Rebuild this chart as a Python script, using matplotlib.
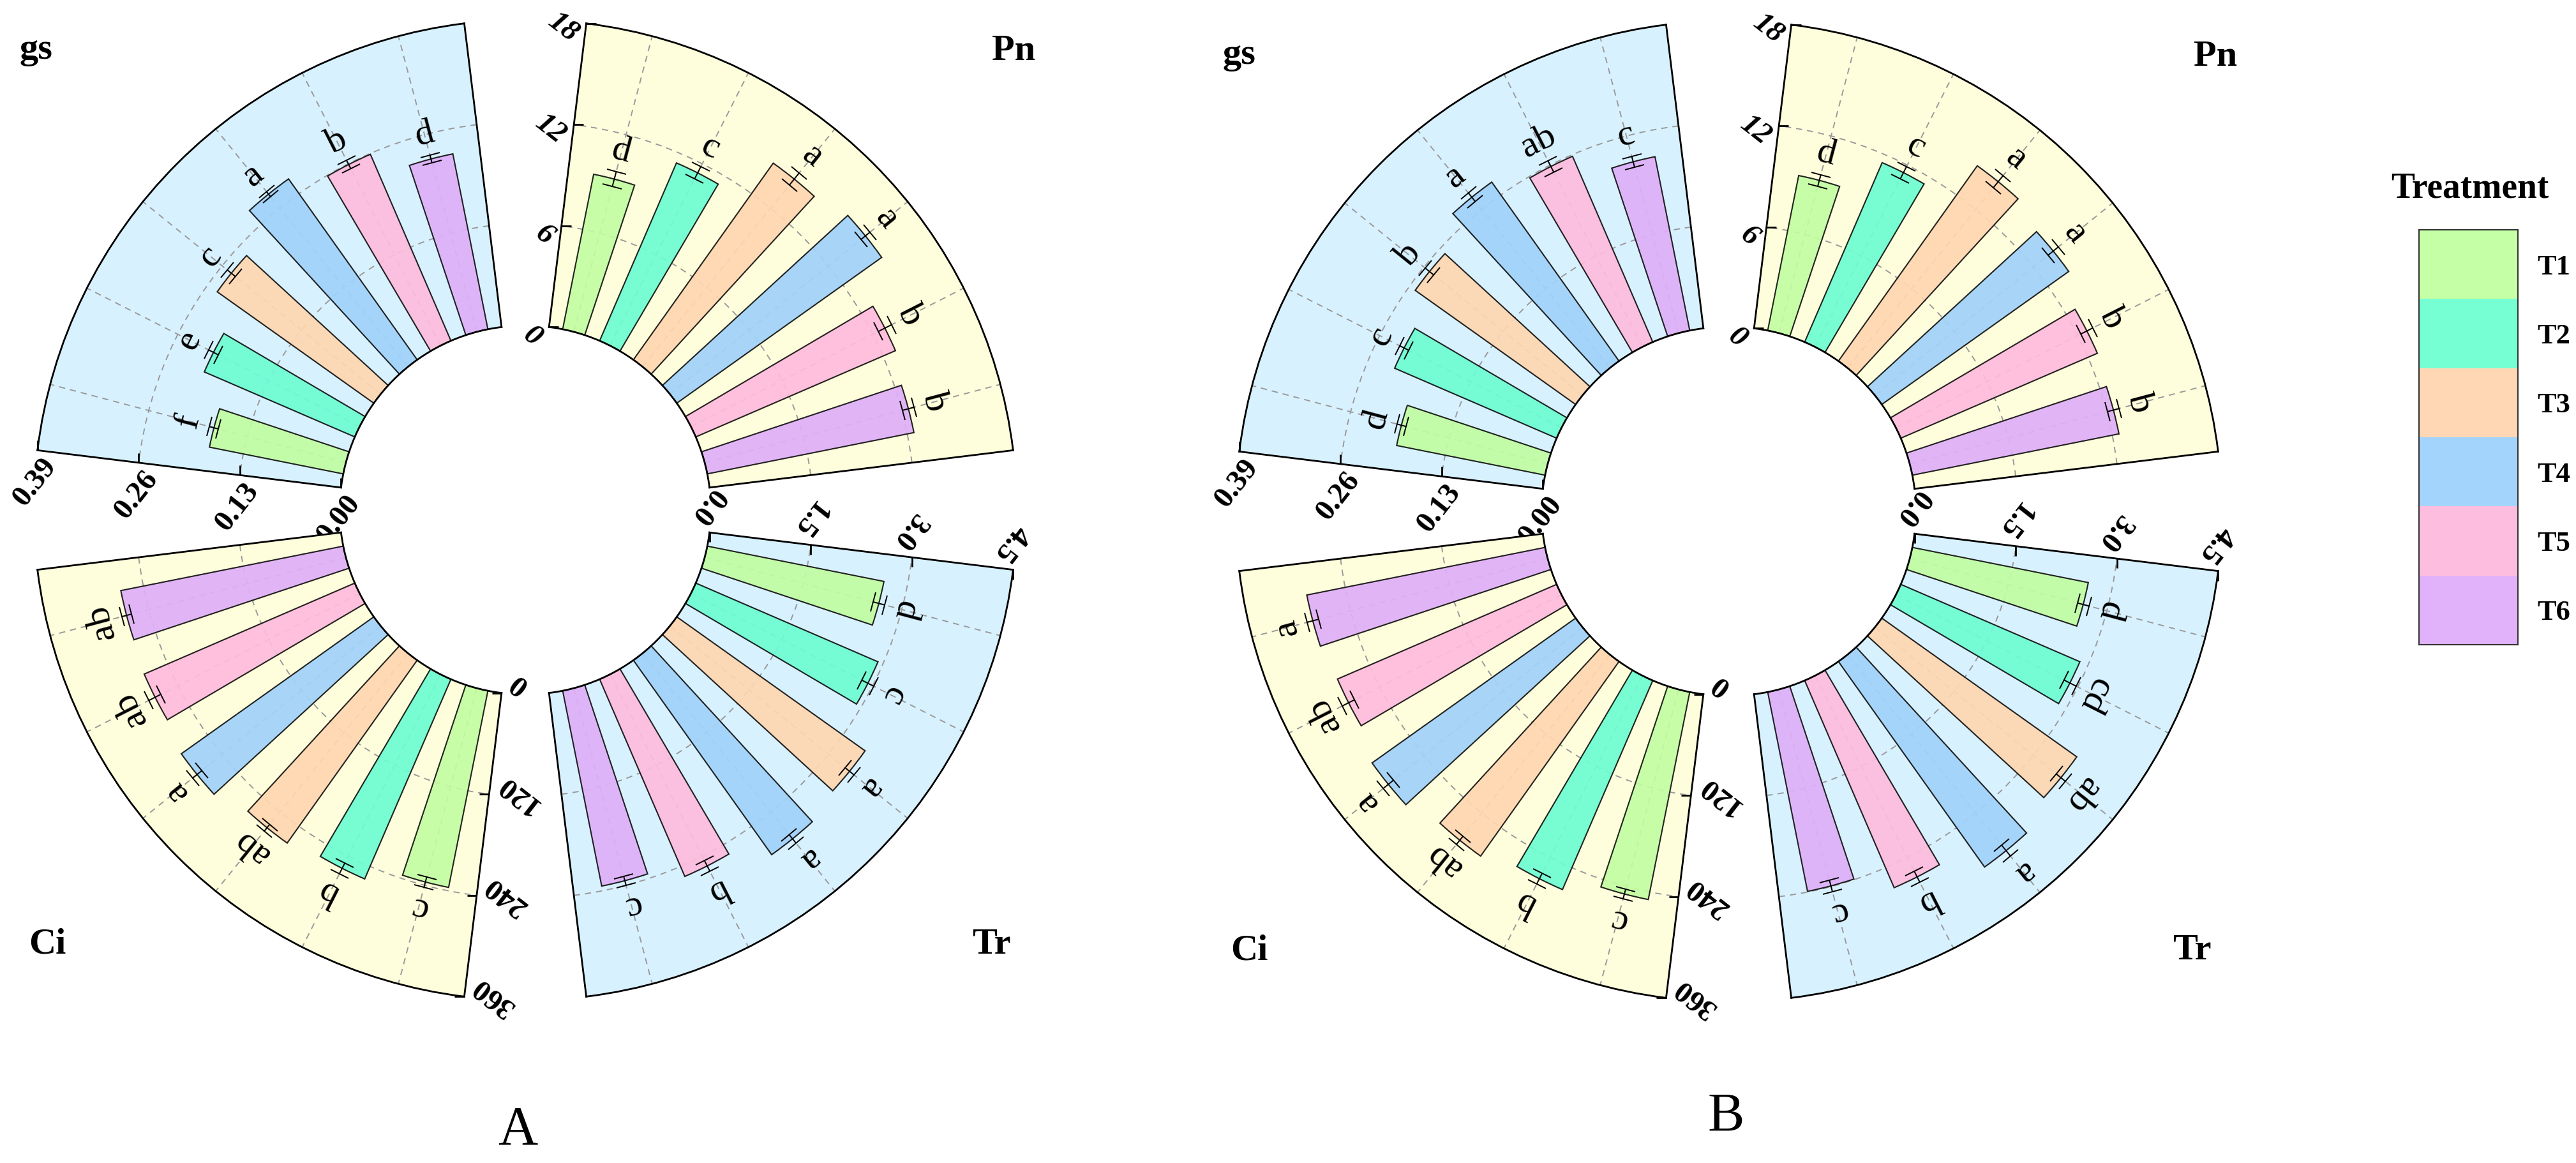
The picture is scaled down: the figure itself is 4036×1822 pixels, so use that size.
import numpy as np
import matplotlib
matplotlib.use("Agg")
import matplotlib.pyplot as plt
from matplotlib import transforms as mtransforms
from matplotlib.markers import TICKRIGHT, TICKUP, TICKLEFT, TICKDOWN

plt.rcParams['font.family'] = ['Liberation Serif', 'DejaVu Serif']

treatments = ['T1', 'T2', 'T3', 'T4', 'T5', 'T6']
bar_colors = ['#C2FDA2', '#6DFDD2', '#FFD6B0', '#A1D2FA', '#FFBBDD', '#DFAFF8']
legend_colors = ['#C5FFA6', '#76FFD3', '#FFD7B4', '#A3D4FC', '#FDBDDF', '#E1B1FA']

# panel A
pn_a = [9.3, 11.4, 14.2, 14.8, 12.8, 12.4]
pn_a_err = [0.45, 0.4, 0.45, 0.35, 0.45, 0.35]
pn_a_sig = ['d', 'c', 'a', 'a', 'b', 'b']
gs_a = [0.174, 0.209, 0.245, 0.283, 0.259, 0.228]
gs_a_err = [0.006, 0.007, 0.007, 0.004, 0.006, 0.005]
gs_a_sig = ['f', 'e', 'c', 'a', 'b', 'd']
ci_a = [236, 256, 264, 278, 270, 267]
ci_a_err = [6, 7, 5, 7, 8, 6]
ci_a_sig = ['c', 'b', 'ab', 'a', 'ab', 'ab']
tr_a = [2.65, 2.92, 3.40, 3.51, 3.16, 2.93]
tr_a_err = [0.09, 0.10, 0.08, 0.08, 0.09, 0.07]
tr_a_sig = ['d', 'c', 'a', 'a', 'b', 'c']

# panel B
pn_b = [9.3, 11.5, 14.1, 13.5, 12.6, 12.4]
pn_b_err = [0.35, 0.4, 0.45, 0.4, 0.4, 0.35]
pn_b_sig = ['d', 'c', 'a', 'a', 'b', 'b']
gs_b = [0.193, 0.225, 0.251, 0.280, 0.258, 0.226]
gs_b_err = [0.006, 0.006, 0.007, 0.007, 0.008, 0.007]
gs_b_sig = ['d', 'c', 'b', 'a', 'ab', 'c']
ci_b = [249, 268, 281, 294, 281, 286]
ci_b_err = [6, 7, 6, 8, 8, 7]
ci_b_sig = ['c', 'b', 'ab', 'a', 'ab', 'a']
tr_b = [2.64, 2.87, 3.52, 3.71, 3.32, 2.99]
tr_b_err = [0.09, 0.10, 0.09, 0.10, 0.09, 0.09]
tr_b_sig = ['d', 'cd', 'ab', 'a', 'b', 'c']

pn_ticks = ['0', '6', '12', '18']
gs_ticks = ['0.00', '0.13', '0.26', '0.39']
ci_ticks = ['0', '120', '240', '360']
tr_ticks = ['0.0', '1.5', '3.0', '4.5']

W, H, DPI = 4037, 1822, 100
fig = plt.figure(figsize=(W / DPI, H / DPI), dpi=DPI)

R = 768              # outer radius, px
RHO = 0.376          # inner / outer radius
SPAN = (7, 83)
STEP = 12.06
BAR_W = 7.1
YELLOW = '#FEFEDC'
BLUE = '#D8F1FE'
tick_markers = [TICKRIGHT, TICKUP, TICKLEFT, TICKDOWN]


def wedge_box(k):
    t = np.radians(np.linspace(SPAN[0], SPAN[1], 400) + 90 * k)
    xs = np.concatenate([np.cos(t), RHO * np.cos(t)])
    ys = np.concatenate([np.sin(t), RHO * np.sin(t)])
    x0, x1, y0, y1 = xs.min(), xs.max(), ys.min(), ys.max()
    w, h = x1 - x0, y1 - y0
    dh = max(w - h, 0) / 2
    dw = max(h - w, 0) / 2
    return x0 - dw, x1 + dw, y0 - dh, y1 + dh


def quadrant(cx, cy, k, vals, errs, sig, tick_lbls, bg, italic=False):
    x0, x1, y0, y1 = wedge_box(k)
    Y = H - cy
    ax = fig.add_axes([(cx + R * x0) / W, (Y + R * y0) / H,
                       R * (x1 - x0) / W, R * (y1 - y0) / H], projection='polar')
    ax.set_thetamin(SPAN[0] + 90 * k)
    ax.set_thetamax(SPAN[1] + 90 * k)
    vmax = float(tick_lbls[-1])
    ax.set_rlim(0, vmax)
    ax.set_rorigin(-vmax * RHO / (1 - RHO))
    ax.set_facecolor(bg)

    deg = 45 + 90 * k + STEP * np.array([2.5, 1.5, 0.5, -0.5, -1.5, -2.5])
    th = np.radians(deg)
    ticks = [float(t) for t in tick_lbls]

    ax.set_axisbelow(True)
    ax.set_xticks(th)
    ax.set_yticks(ticks[1:-1])
    ax.set_xticklabels([])
    ax.set_yticklabels([])
    ax.tick_params(length=0)
    ax.grid(True, ls=(0, (5, 4)), color='#9A9A9A', lw=1.4)
    for sp in ax.spines.values():
        sp.set_linewidth(2)
        sp.set_color('k')

    ax.bar(th, vals, width=np.radians(BAR_W), bottom=0, color=bar_colors,
           edgecolor='#111111', linewidth=1.5, alpha=0.92, zorder=2)
    ax.errorbar(th, vals, yerr=errs, fmt='none', ecolor='k', elinewidth=1.4,
                capsize=11, capthick=1.4, zorder=3)

    for t, d, v, e, s in zip(th, deg, vals, errs, sig):
        ax.text(t, v + e + 0.07 * vmax, s, rotation=d - 90, rotation_mode='anchor',
                ha='center', va='center', fontsize=42, zorder=4)

    # radial axis along the edge
    te = SPAN[1] + 90 * k
    ax.plot([np.radians(te)] * 4, ticks, ls='none', marker=tick_markers[k],
            ms=11, mew=2, color='k', clip_on=False, zorder=5)
    nrm = np.radians(te + 90)
    alo = np.radians(te)
    dx = 15 * np.cos(nrm) - 24 * np.cos(alo)
    dy = 15 * np.sin(nrm) - 24 * np.sin(alo)
    tr = mtransforms.offset_copy(ax.transData, fig=fig, x=dx, y=dy, units='dots')
    for r, lbl in zip(ticks, tick_lbls):
        ax.text(np.radians(te), r, lbl, transform=tr, rotation=te - 121,
                rotation_mode='anchor', ha='right', va='center', fontsize=34,
                fontweight='bold', fontstyle='italic' if italic else 'normal')
    ax.set_aspect('auto')
    return ax


def panel(lcx, rcx, cy, pn, pn_e, pn_s, gs, gs_e, gs_s, ci, ci_e, ci_s, tr, tr_e, tr_s):
    quadrant(rcx, cy, 0, pn, pn_e, pn_s, pn_ticks, YELLOW, italic=True)
    quadrant(lcx, cy, 1, gs, gs_e, gs_s, gs_ticks, BLUE)
    quadrant(lcx, cy, 2, ci, ci_e, ci_s, ci_ticks, YELLOW)
    quadrant(rcx, cy, 3, tr, tr_e, tr_s, tr_ticks, BLUE)


panel(821, 825, 799, pn_a, pn_a_err, pn_a_sig, gs_a, gs_a_err, gs_a_sig,
      ci_a, ci_a_err, ci_a_sig, tr_a, tr_a_err, tr_a_sig)
panel(2704, 2713, 801, pn_b, pn_b_err, pn_b_sig, gs_b, gs_b_err, gs_b_sig,
      ci_b, ci_b_err, ci_b_sig, tr_b, tr_b_err, tr_b_sig)

# quadrant titles
titles = [('gs', 56, 78), ('Pn', 1588, 80), ('Ci', 74, 1480), ('Tr', 1553, 1480),
          ('gs', 1941, 86), ('Pn', 3471, 89), ('Ci', 1957, 1489), ('Tr', 3434, 1489)]
for s, x, y in titles:
    fig.text(x / W, 1 - y / H, s, fontsize=42, fontweight='bold', ha='center', va='center')

fig.text(811 / W, 1 - 1772 / H, 'A', fontsize=62, ha='center', va='center')
fig.text(2704 / W, 1 - 1751 / H, 'B', fontsize=62, ha='center', va='center')

# legend
lax = fig.add_axes([3790 / W, 1 - 1010 / H, 155 / W, 650 / H])
lax.barh(np.arange(6), [1] * 6, height=1, color=legend_colors)
lax.set_xlim(0, 1)
lax.set_ylim(5.5, -0.5)
lax.set_xticks([])
lax.yaxis.tick_right()
lax.set_yticks(np.arange(6))
lax.set_yticklabels(treatments, fontweight='bold')
lax.tick_params(length=0, pad=22, labelsize=32)
for sp in lax.spines.values():
    sp.set_linewidth(1.5)
    sp.set_color('#333333')
fig.text(3870 / W, 1 - 296 / H, 'Treatment', fontsize=40, fontweight='bold',
         ha='center', va='center')

fig.savefig('out.png', dpi=DPI)
